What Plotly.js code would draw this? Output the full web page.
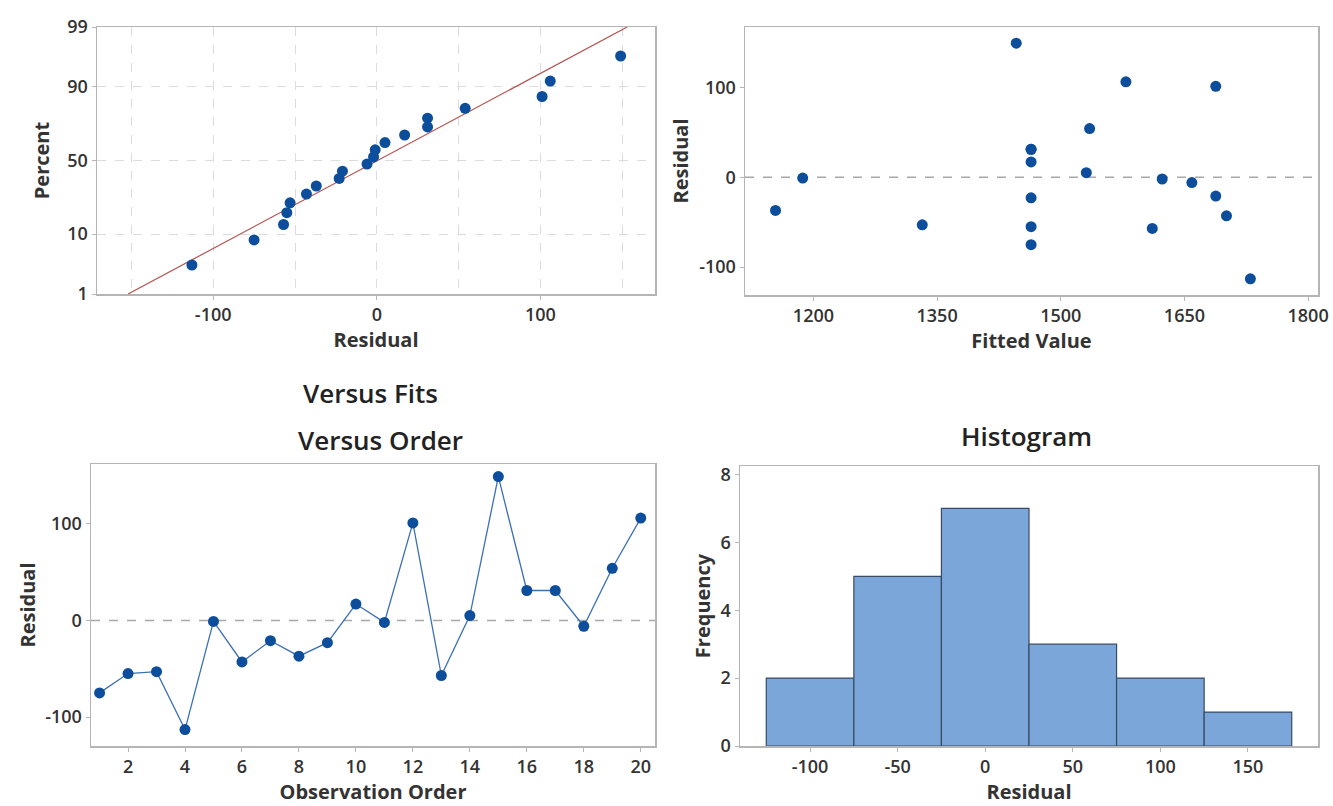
<!DOCTYPE html>
<html>
<head>
<meta charset="utf-8">
<script src="https://cdn.plot.ly/plotly-3.0.1.min.js"></script>
<style>
html,body{margin:0;padding:0;background:#fff;}
#chart{width:1333px;height:806px;}
</style>
</head>
<body>
<div id="chart"></div>
<script>
// ---- Data ----
var observationOrder = [1,2,3,4,5,6,7,8,9,10,11,12,13,14,15,16,17,18,19,20];
var residuals = [-75,-55,-53,-113,-1,-43,-21,-37,-23,17,-2,101,-57,5,149,31,31,-6,54,106];
var fittedValues = [1464,1464,1332,1730,1187,1701,1688,1154,1464,1464,1623,1688,1611,1531,1446,1464,1464,1659,1535,1579];
// probability plot positions (percent) for the sorted residuals
var probPercents = [3.43,8.33,13.24,18.14,23.04,27.94,32.84,37.75,42.65,47.55,52.45,57.35,62.25,67.16,72.06,76.96,81.86,86.76,91.67,96.57];
// fitted normal line (residual, percent) end points
var fitLineResidual = [-152,153];
var fitLinePercent = [1,99];
// histogram
var histCenters = [-100,-50,0,50,100,150];
var histCounts = [2,5,7,3,2,1];
// tick labels
var pctTickPercents = [1,10,50,90,99];
var pctTickText = ['1','10','50','90','99'];
var resTickVals = [-100,0,100];
var resTickText = ['-100','0','100'];
var fitTickVals = [1200,1350,1500,1650,1800];
var fitTickText = ['1200','1350','1500','1650','1800'];
var histTickVals = [-100,-50,0,50,100,150];
var histTickText = ['-100','-50','0','50','100','150'];
var freqTickVals = [0,2,4,6,8];
var orderTickVals = [2,4,6,8,10,12,14,16,18,20];

// inverse normal CDF (probability axis transform)
function normInv(p){
  var a=[-3.969683028665376e+01,2.209460984245205e+02,-2.759285104469687e+02,1.383577518672690e+02,-3.066479806614716e+01,2.506628277459239e+00];
  var b=[-5.447609879822406e+01,1.615858368580409e+02,-1.556989798598866e+02,6.680131188771972e+01,-1.328068155288572e+01];
  var c=[-7.784894002430293e-03,-3.223964580411365e-01,-2.400758277161838e+00,-2.549732539343734e+00,4.374664141464968e+00,2.938163982698783e+00];
  var d=[7.784695709041462e-03,3.224671290700398e-01,2.445134137142996e+00,3.754408661907416e+00];
  var pl=0.02425, q, r;
  if(p<pl){q=Math.sqrt(-2*Math.log(p));return (((((c[0]*q+c[1])*q+c[2])*q+c[3])*q+c[4])*q+c[5])/((((d[0]*q+d[1])*q+d[2])*q+d[3])*q+1);}
  if(p>1-pl){q=Math.sqrt(-2*Math.log(1-p));return -(((((c[0]*q+c[1])*q+c[2])*q+c[3])*q+c[4])*q+c[5])/((((d[0]*q+d[1])*q+d[2])*q+d[3])*q+1);}
  q=p-0.5;r=q*q;
  return (((((a[0]*r+a[1])*r+a[2])*r+a[3])*r+a[4])*r+a[5])*q/(((((b[0]*r+b[1])*r+b[2])*r+b[3])*r+b[4])*r+1);
}
function toZ(arr){return arr.map(function(p){return normInv(p/100);});}

var sortedResiduals = residuals.slice().sort(function(a,b){return a-b;});

var W=1333,H=806;
function dx(a,b){return [a/W,b/W];}
function dy(top,bottom){return [1-bottom/H,1-top/H];}

var MARK='#0c4d9c';
var FONT='Open Sans, Noto Sans, sans-serif';
var tickFont={family:FONT,size:18,color:'#333',weight:600};
var titleFont={family:FONT,size:20,color:'#333',weight:700};

function axisBase(){
  return {showline:true,mirror:true,linecolor:'#b5b5b5',linewidth:1.5,
    ticks:'outside',ticklen:4,tickcolor:'#b5b5b5',tickwidth:1,
    showgrid:false,zeroline:false,tickfont:tickFont,fixedrange:true};
}

var traces=[
  // probability plot
  {type:'scatter',mode:'lines',x:fitLineResidual,y:toZ(fitLinePercent),xaxis:'x',yaxis:'y',
   line:{color:'#b5524f',width:1.2},hoverinfo:'skip'},
  {type:'scatter',mode:'markers',x:sortedResiduals,y:toZ(probPercents),xaxis:'x',yaxis:'y',
   marker:{color:MARK,size:11}},
  // versus fits
  {type:'scatter',mode:'markers',x:fittedValues,y:residuals,xaxis:'x2',yaxis:'y2',
   marker:{color:MARK,size:11}},
  // versus order
  {type:'scatter',mode:'lines+markers',x:observationOrder,y:residuals,xaxis:'x3',yaxis:'y3',
   line:{color:'#3b70b5',width:1.3},marker:{color:MARK,size:11}},
  // histogram
  {type:'bar',x:histCenters,y:histCounts,width:50,xaxis:'x4',yaxis:'y4',
   marker:{color:'#7ba6da',line:{color:'#3a4a63',width:1.2}}}
];

var xa1=axisBase(); Object.assign(xa1,{domain:dx(97,655),anchor:'y',range:[-171,170],
  tickvals:resTickVals,ticktext:resTickText,showgrid:true,gridcolor:'#dcdcdc',griddash:'dash',gridwidth:1,
  minor:{tickvals:[-150,-50,50,150],showgrid:true,gridcolor:'#dcdcdc',griddash:'dash',ticks:''},
  title:{text:'Residual',font:titleFont,standoff:6}});
var ya1=axisBase(); Object.assign(ya1,{domain:dy(27,294),anchor:'x',range:[normInv(0.01),normInv(0.99)],
  tickvals:toZ(pctTickPercents),ticktext:pctTickText,showgrid:true,gridcolor:'#dcdcdc',griddash:'dash',gridwidth:1,
  title:{text:'Percent',font:titleFont,standoff:12}});

var xa2=axisBase(); Object.assign(xa2,{domain:dx(745,1318),anchor:'y2',range:[1117,1812],
  tickvals:fitTickVals,ticktext:fitTickText,title:{text:'Fitted Value',font:titleFont,standoff:6}});
var ya2=axisBase(); Object.assign(ya2,{domain:dy(27,295),anchor:'x2',range:[-131,167],
  tickvals:resTickVals,ticktext:resTickText,title:{text:'Residual',font:titleFont,standoff:5}});

var xa3=axisBase(); Object.assign(xa3,{domain:dx(91,655),anchor:'y3',range:[0.7,20.5],
  tickvals:orderTickVals,title:{text:'Observation Order',font:titleFont,standoff:4}});
var ya3=axisBase(); Object.assign(ya3,{domain:dy(464,746),anchor:'x3',range:[-130,162],
  tickvals:resTickVals,ticktext:resTickText,title:{text:'Residual',font:titleFont,standoff:4}});

var xa4=axisBase(); Object.assign(xa4,{domain:dx(740,1318),anchor:'y4',range:[-140,190],
  tickvals:histTickVals,ticktext:histTickText,title:{text:'Residual',font:titleFont,standoff:6}});
var ya4=axisBase(); Object.assign(ya4,{domain:dy(466,746),anchor:'x4',range:[0,8.25],
  tickvals:freqTickVals,title:{text:'Frequency',font:titleFont,standoff:4}});

var panelTitleFont={family:FONT,size:26,color:'#222',weight:600};
var layout={
  width:W,height:H,margin:{l:0,r:0,t:0,b:0},paper_bgcolor:'#fff',plot_bgcolor:'#fff',
  showlegend:false,bargap:0,
  xaxis:xa1,yaxis:ya1,xaxis2:xa2,yaxis2:ya2,xaxis3:xa3,yaxis3:ya3,xaxis4:xa4,yaxis4:ya4,
  shapes:[
    {type:'line',xref:'x2 domain',yref:'y2',x0:0,x1:1,y0:0,y1:0,line:{color:'#a8a8a8',width:1.6,dash:'dash'},layer:'below'},
    {type:'line',xref:'x3 domain',yref:'y3',x0:0,x1:1,y0:0,y1:0,line:{color:'#a8a8a8',width:1.6,dash:'dash'},layer:'below'}
  ],
  annotations:[
    {text:'Versus Fits',xref:'paper',yref:'paper',x:370/W,y:1-393/H,showarrow:false,font:panelTitleFont,xanchor:'center',yanchor:'middle'},
    {text:'Versus Order',xref:'paper',yref:'paper',x:380/W,y:1-440/H,showarrow:false,font:panelTitleFont,xanchor:'center',yanchor:'middle'},
    {text:'Histogram',xref:'paper',yref:'paper',x:1026/W,y:1-436/H,showarrow:false,font:panelTitleFont,xanchor:'center',yanchor:'middle'}
  ]
};

Plotly.newPlot('chart',traces,layout,{displayModeBar:false,staticPlot:true});
</script>
</body>
</html>
